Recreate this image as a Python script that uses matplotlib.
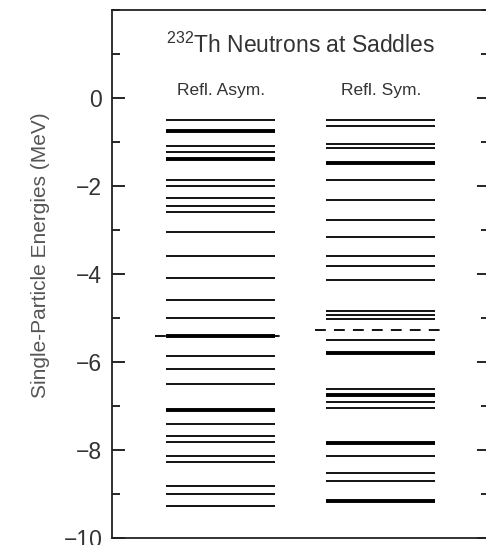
import matplotlib
matplotlib.use("Agg")
import matplotlib.pyplot as plt
from matplotlib.ticker import MultipleLocator

plt.rcParams['font.family'] = ['Liberation Sans', 'DejaVu Sans']
plt.rcParams['mathtext.fontset'] = 'custom'
plt.rcParams['mathtext.rm'] = 'Liberation Sans'
plt.rcParams['mathtext.it'] = 'Liberation Sans:italic'

# Single-particle neutron levels (MeV) at the saddle points of 232Th
asym_levels = [-0.50, -1.08, -1.22, -1.86, -2.00, -2.27, -2.45, -2.59,
               -3.05, -3.58, -4.09, -4.59, -5.00, -5.87, -6.17, -6.49,
               -7.40, -7.68, -7.82, -8.13, -8.27, -8.81, -8.99, -9.27]
asym_double = [-0.75, -1.38, -5.41, -7.10]
asym_fermi = -5.42

sym_levels = [-0.50, -0.63, -1.04, -1.14, -1.87, -2.31, -2.77, -3.17,
              -3.58, -3.81, -4.13, -4.85, -4.94, -5.03, -5.49, -6.62,
              -6.90, -7.04, -8.13, -8.53, -8.71]
sym_double = [-1.47, -5.79, -6.74, -7.83, -9.15]
sym_fermi = -5.28

columns = ["Refl. Asym.", "Refl. Sym."]
title = r"$^{\mathrm{232}}$Th Neutrons at Saddles"
ylabel = "Single-Particle Energies (MeV)"

W, H = 486, 545
fig = plt.figure(figsize=(W / 100, H / 100), dpi=100)
ax = fig.add_axes([112 / W, 7 / H, 377 / W, 528 / H])

half = 0.34
fhalf = 0.41
text_col = "#333333"

for xc, singles, doubles, ef in [(0, asym_levels, asym_double, asym_fermi),
                                 (1, sym_levels, sym_double, sym_fermi)]:
    ax.hlines(singles, xc - half, xc + half, colors="black", linewidth=1.3)
    ax.hlines(doubles, xc - half, xc + half, colors="black", linewidth=2.8)
    ax.hlines([ef], xc - fhalf, xc + fhalf, colors="black", linewidth=1.3,
              linestyles=(0, (6, 4.5)))

for xc, name in enumerate(columns):
    ax.text(xc, 0.17, name, ha="center", va="center", fontsize=12.5,
            color=text_col)
ax.text(0.5, 1.2, title, ha="center", va="center", fontsize=16.5,
        color=text_col)

ax.set_xlim(-0.68, 1.676)
ax.set_ylim(-10, 2)
ax.yaxis.set_major_locator(MultipleLocator(2))
ax.yaxis.set_minor_locator(MultipleLocator(1))
ax.set_yticks([0, -2, -4, -6, -8, -10])
ax.tick_params(axis="y", which="both", direction="in", left=True, right=True,
               labelsize=16.5, labelcolor=text_col, width=1.2, pad=7)
ax.tick_params(axis="y", which="major", length=9)
ax.tick_params(axis="y", which="minor", length=6)
ax.set_xticks([])
for s in ax.spines.values():
    s.set_linewidth(1.3)
    s.set_color("#222222")

fig.text(40 / W, 1 - 255 / H, ylabel, rotation=90, ha="center", va="center",
         fontsize=15, color="#555555")

fig.savefig("out.png", dpi=100)
